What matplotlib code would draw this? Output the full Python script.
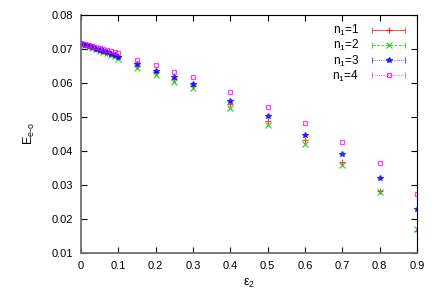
import matplotlib
matplotlib.use("Agg")
import matplotlib.pyplot as plt
from matplotlib.lines import Line2D
from matplotlib.legend_handler import HandlerLine2D

plt.rcParams['font.family'] = ['Liberation Sans', 'DejaVu Sans']
plt.rcParams['mathtext.fontset'] = 'custom'
plt.rcParams['mathtext.rm'] = 'Liberation Sans'
plt.rcParams['mathtext.it'] = 'Liberation Sans'

# eps_2 values
eps2 = [0.0, 0.01, 0.02, 0.03, 0.04, 0.05, 0.06, 0.07, 0.08, 0.09, 0.1,
        0.15, 0.2, 0.25, 0.3, 0.4, 0.5, 0.6, 0.7, 0.8, 0.9]

n1 = [0.0716, 0.0712, 0.0708, 0.0705, 0.0701, 0.0697, 0.0693, 0.0689, 0.0686, 0.0682, 0.0675,
      0.0650, 0.0632, 0.0612, 0.0591, 0.0539, 0.0489, 0.0433, 0.0367, 0.0283, 0.0165]
n2 = [0.0716, 0.0711, 0.0707, 0.0703, 0.0699, 0.0695, 0.0691, 0.0687, 0.0683, 0.0678, 0.0671,
      0.0645, 0.0624, 0.0602, 0.0585, 0.0527, 0.0477, 0.0420, 0.0360, 0.0281, 0.0171]
n3 = [0.0716, 0.0712, 0.0708, 0.0705, 0.0701, 0.0697, 0.0694, 0.0690, 0.0686, 0.0682, 0.0677,
      0.0655, 0.0636, 0.0617, 0.0596, 0.0548, 0.0503, 0.0448, 0.0391, 0.0322, 0.0231]
n4 = [0.0717, 0.0714, 0.0711, 0.0708, 0.0705, 0.0702, 0.0699, 0.0696, 0.0693, 0.0690, 0.0687,
      0.0668, 0.0653, 0.0632, 0.0617, 0.0573, 0.0530, 0.0481, 0.0427, 0.0364, 0.0273]

series = [n1, n2, n3, n4]
labels = ['n$_1$=1', 'n$_1$=2', 'n$_1$=3', 'n$_1$=4']
colors = ['#ff0000', '#00c000', '#0000ff', '#ff00ff']
markers = ['+', 'x', '*', 's']
styles = ['-', '--', ':', ':']

fig = plt.figure(figsize=(4.36, 3.05), dpi=100)
ax = fig.add_axes([0.186, 0.170, 0.770, 0.781])

handles = []
hmap = {}
for y, lab, c, m, ls in zip(series, labels, colors, markers, styles):
    mfc = 'none' if m == 's' else c
    ms = 3.5 if m == 's' else 4
    ax.plot(eps2, y, linestyle='none', marker=m, color=c, markersize=ms,
            markerfacecolor=mfc, markeredgewidth=0.9, alpha=0.75)
    caps = Line2D([], [], color=c, linestyle=ls, linewidth=0.6, marker='|',
                  markersize=4, markeredgewidth=0.6, alpha=0.8)
    mk = Line2D([], [], color=c, linestyle='none', marker=m, markersize=ms,
                markerfacecolor=mfc, markeredgewidth=0.9, alpha=0.8)
    hmap[caps] = HandlerLine2D(numpoints=2)
    hmap[mk] = HandlerLine2D(numpoints=1)
    handles.append((caps, mk))

ax.set_xlim(0, 0.9)
ax.set_ylim(0.01, 0.08)
ax.set_xticks([0, 0.1, 0.2, 0.3, 0.4, 0.5, 0.6, 0.7, 0.8, 0.9])
ax.set_xticklabels(['0', '0.1', '0.2', '0.3', '0.4', '0.5', '0.6', '0.7', '0.8', '0.9'])
ax.set_yticks([0.01, 0.02, 0.03, 0.04, 0.05, 0.06, 0.07, 0.08])
ax.set_yticklabels(['0.01', '0.02', '0.03', '0.04', '0.05', '0.06', '0.07', '0.08'])
ax.tick_params(direction='in', top=True, right=True, length=4, width=0.8,
               labelsize=8, pad=6)
for s in ['left', 'bottom']:
    ax.spines[s].set_color('#707070')
    ax.spines[s].set_linewidth(1.3)
for s in ['top', 'right']:
    ax.spines[s].set_color('black')
    ax.spines[s].set_linewidth(0.8)

ax.set_xlabel(r'$\varepsilon_2$', fontsize=9, labelpad=4)
ax.set_ylabel(r'E$_{\rm e\text{-}o}$', fontsize=9, labelpad=10)

ax.legend(handles, labels, handler_map=hmap, loc='upper right',
          frameon=False, markerfirst=False, fontsize=8.5, handlelength=3.4,
          labelspacing=0.0, borderaxespad=0.0, handletextpad=0.8,
          bbox_to_anchor=(0.99, 0.985))

fig.savefig('out.png', dpi=100)
